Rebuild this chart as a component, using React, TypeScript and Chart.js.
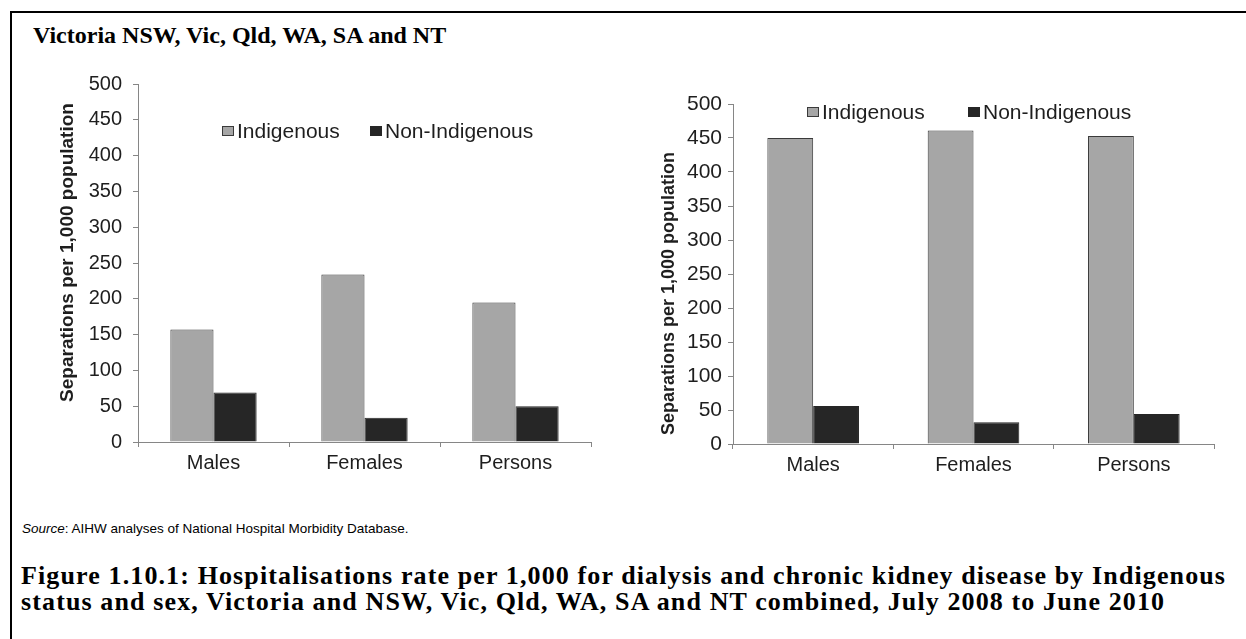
import React, { useEffect, useRef } from "react";
import { Chart, registerables } from "chart.js";

Chart.register(...registerables);

// ---- data ----
const categories = ["Males", "Females", "Persons"];
const seriesLabels = ["Indigenous", "Non-Indigenous"];
const victoriaIndigenous = [157, 234, 195];
const victoriaNonIndigenous = [69, 34, 50];
const combinedIndigenous = [450, 461, 453];
const combinedNonIndigenous = [56, 32, 44];
const yTickValues = [0, 50, 100, 150, 200, 250, 300, 350, 400, 450, 500];
const yAxisTitle = "Separations per 1,000 population";
const panelTitle = "Victoria NSW, Vic, Qld, WA, SA and NT";
const sourceLabel = "Source";
const sourceText = ": AIHW analyses of National Hospital Morbidity Database.";
const captionLines = [
  "Figure 1.10.1: Hospitalisations rate per 1,000 for dialysis and chronic kidney disease by Indigenous",
  "status and sex, Victoria and NSW, Vic, Qld, WA, SA and NT combined, July 2008 to June 2010",
];

// ---- styles ----
const SANS = "'Liberation Sans', Arial, Helvetica, sans-serif";
const SERIF = "'Liberation Serif', 'Times New Roman', serif";
const INDIG_FILL = "#a6a6a6";
const INDIG_BORDER = "#3a3a3a";
const NON_FILL = "#262626";
const AXIS_COLOR = "#868686";
const TEXT_COLOR = "#1e1e1e";

type PanelStyle = {
  left: number; top: number; width: number; height: number;
  yAxisWidth: number; xAxisHeight: number; padTop: number; padRight: number;
  tickFont: number; tickPad: number; catFont: number; catPad: number;
  legendFont: number; legendX: number[]; legendDy: number;
  titleFont: number; titleDx: number; titleDy: number;
};

const leftStyle: PanelStyle = {
  left: 20, top: 61, width: 581, height: 421,
  yAxisWidth: 118, xAxisHeight: 40, padTop: 20, padRight: 10,
  tickFont: 20, tickPad: 11, catFont: 20, catPad: 4,
  legendFont: 21, legendX: [84, 232], legendDy: 47,
  titleFont: 19, titleDx: -70.5, titleDy: -10.5,
};

const rightStyle: PanelStyle = {
  left: 620, top: 84, width: 604, height: 400,
  yAxisWidth: 113, xAxisHeight: 40, padTop: 20, padRight: 10,
  tickFont: 21, tickPad: 6, catFont: 20, catPad: 4,
  legendFont: 21, legendX: [73.5, 235], legendDy: 8,
  titleFont: 18, titleDx: -64, titleDy: 19.5,
};

function makeDecor(st: PanelStyle) {
  return {
    id: "decor",
    afterDraw(chart: any) {
      const { ctx, chartArea } = chart;
      ctx.save();
      ctx.font = `${st.legendFont}px ${SANS}`;
      ctx.textBaseline = "middle";
      ctx.textAlign = "left";
      const cy = chartArea.top + st.legendDy;
      const bw = 12;
      const bh = 10;
      chart.data.datasets.forEach((d: any, i: number) => {
        const x = Math.round(chartArea.left + st.legendX[i]);
        const y = Math.round(cy - bh / 2);
        ctx.fillStyle = d.backgroundColor;
        ctx.fillRect(x, y, bw, bh);
        ctx.strokeStyle = d.borderColor;
        ctx.lineWidth = 1;
        ctx.strokeRect(x + 0.5, y + 0.5, bw - 1, bh - 1);
        ctx.fillStyle = TEXT_COLOR;
        ctx.fillText(d.label, x + bw + 3, cy + 1);
      });
      ctx.translate(
        chartArea.left + st.titleDx,
        (chartArea.top + chartArea.bottom) / 2 + st.titleDy
      );
      ctx.rotate(-Math.PI / 2);
      ctx.font = `bold ${st.titleFont}px ${SANS}`;
      ctx.textAlign = "center";
      ctx.textBaseline = "middle";
      ctx.fillStyle = TEXT_COLOR;
      ctx.fillText(yAxisTitle, 0, 0);
      ctx.restore();
    },
  };
}

function BarPanel({ indigenous, nonIndigenous, st }: { indigenous: number[]; nonIndigenous: number[]; st: PanelStyle }) {
  const ref = useRef<HTMLCanvasElement>(null);
  useEffect(() => {
    const chart = new Chart(ref.current as HTMLCanvasElement, {
      type: "bar",
      data: {
        labels: categories,
        datasets: [
          { label: seriesLabels[0], data: indigenous, backgroundColor: INDIG_FILL, borderColor: INDIG_BORDER, borderWidth: 1 },
          { label: seriesLabels[1], data: nonIndigenous, backgroundColor: NON_FILL, borderColor: NON_FILL, borderWidth: 1 },
        ],
      },
      options: {
        animation: false,
        responsive: false,
        maintainAspectRatio: false,
        devicePixelRatio: 1,
        layout: { padding: { top: st.padTop, right: st.padRight, bottom: 0, left: 0 } },
        datasets: { bar: { categoryPercentage: 2 / 3.5, barPercentage: 1 } },
        plugins: { legend: { display: false }, tooltip: { enabled: false }, title: { display: false } },
        scales: {
          x: {
            grid: { display: true, drawOnChartArea: false, drawTicks: true, tickLength: 5, color: AXIS_COLOR, offset: true },
            border: { display: true, color: AXIS_COLOR, width: 1 },
            ticks: { color: TEXT_COLOR, font: { family: SANS, size: st.catFont }, padding: st.catPad, maxRotation: 0, autoSkip: false },
            afterFit: (s: any) => { s.height = st.xAxisHeight; },
          },
          y: {
            min: 0,
            max: 500,
            grid: { drawOnChartArea: false, drawTicks: true, tickLength: 5, color: AXIS_COLOR },
            border: { display: true, color: AXIS_COLOR, width: 1 },
            ticks: { color: TEXT_COLOR, font: { family: SANS, size: st.tickFont }, padding: st.tickPad, stepSize: 50 },
            afterBuildTicks: (s: any) => { s.ticks = yTickValues.map((v) => ({ value: v })); },
            afterFit: (s: any) => { s.width = st.yAxisWidth; },
          },
        },
      } as any,
      plugins: [makeDecor(st) as any],
    });
    return () => chart.destroy();
  }, []);
  return (
    <canvas
      ref={ref}
      width={st.width}
      height={st.height}
      style={{ position: "absolute", left: st.left, top: st.top, width: st.width, height: st.height }}
    />
  );
}

export default function App() {
  return (
    <div style={{ position: "absolute", left: 0, top: 0, width: 1246, height: 639, overflow: "hidden", background: "#fff" }}>
      <div style={{ position: "absolute", left: 10, top: 11, right: 0, bottom: 0, borderLeft: "2px solid #000", borderTop: "2px solid #000" }} />
      <div style={{ position: "absolute", left: 33, top: 23, font: `bold 24px/24px ${SERIF}`, whiteSpace: "nowrap", color: "#000" }}>
        {panelTitle}
      </div>
      <BarPanel indigenous={victoriaIndigenous} nonIndigenous={victoriaNonIndigenous} st={leftStyle} />
      <BarPanel indigenous={combinedIndigenous} nonIndigenous={combinedNonIndigenous} st={rightStyle} />
      <div style={{ position: "absolute", left: 22, top: 522, font: `13.5px/14px ${SANS}`, whiteSpace: "nowrap", color: "#000" }}>
        <i>{sourceLabel}</i>
        {sourceText}
      </div>
      <div style={{ position: "absolute", left: 21, top: 563, font: `bold 26px/26px ${SERIF}`, letterSpacing: "1.12px", whiteSpace: "nowrap", color: "#000" }}>
        {captionLines.map((l) => (
          <div key={l}>{l}</div>
        ))}
      </div>
    </div>
  );
}
